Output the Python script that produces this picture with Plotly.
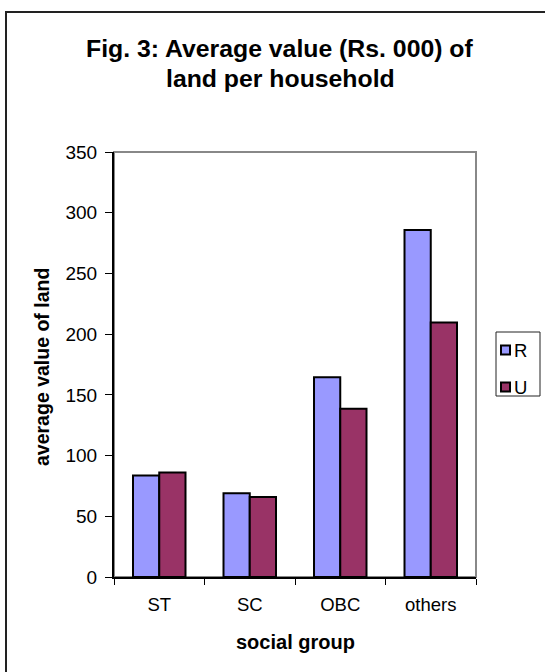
import plotly.graph_objects as go

# Average value of land per household (Rs. 000) by social group
groups = ["ST", "SC", "OBC", "others"]
rural = [83.5, 69.0, 164.6, 285.7]
urban = [86.0, 65.9, 138.5, 209.6]
series_names = ["R", "U"]
y_ticks = [0, 50, 100, 150, 200, 250, 300, 350]
title_lines = ["Fig. 3: Average value (Rs. 000) of", "land per household"]

W, H = 545, 672
L, R, T, B = 114, 476, 152, 577   # plot area in pixels


def px_x(x):
    return (x - L) / (R - L)


def px_y(y):
    return (B - y) / (B - T)


FONT = "Liberation Sans, Arial, sans-serif"
C_R = "#9999FF"
C_U = "#993366"

fig = go.Figure()
fig.add_trace(go.Bar(x=groups, y=rural, name=series_names[0],
                     marker=dict(color=C_R, line=dict(color="black", width=2))))
fig.add_trace(go.Bar(x=groups, y=urban, name=series_names[1],
                     marker=dict(color=C_U, line=dict(color="black", width=2))))

shapes = [
    # chart frame
    dict(type="rect", xref="paper", yref="paper",
         x0=px_x(6), x1=px_x(549), y0=px_y(683), y1=px_y(12),
         line=dict(color="#222222", width=2), fillcolor="rgba(0,0,0,0)", layer="below"),
    # plot area border
    dict(type="rect", xref="paper", yref="paper", x0=0, x1=1, y0=0, y1=1,
         line=dict(color="#888888", width=2), fillcolor="rgba(0,0,0,0)", layer="below"),
    # legend box
    dict(type="rect", xref="paper", yref="paper",
         x0=px_x(496), x1=px_x(540), y0=px_y(396), y1=px_y(332),
         line=dict(color="#222222", width=1), fillcolor="white"),
]
annotations = [
    dict(text="<b>social group</b>", xref="paper", yref="paper",
         x=px_x(295), y=px_y(642), xanchor="center", yanchor="middle",
         showarrow=False, font=dict(family=FONT, size=20, color="black")),
    dict(text="<b>average value of land</b>", xref="paper", yref="paper",
         x=px_x(42), y=px_y(367), xanchor="center", yanchor="middle",
         textangle=-90, showarrow=False,
         font=dict(family=FONT, size=19.5, color="black")),
]

# two-line chart title
for line, cy in zip(title_lines, [48, 78]):
    annotations.append(dict(text="<b>" + line + "</b>", xref="paper", yref="paper",
                            x=px_x(280), y=px_y(cy), xanchor="center",
                            yanchor="middle", showarrow=False,
                            font=dict(family=FONT, size=24.8, color="black")))

# legend entries
for i, (name, col) in enumerate(zip(series_names, [C_R, C_U])):
    cy = 350 + i * 37
    shapes.append(dict(type="rect", xref="paper", yref="paper",
                       x0=px_x(501), x1=px_x(510), y0=px_y(cy + 4.5), y1=px_y(cy - 4.5),
                       line=dict(color="black", width=2), fillcolor=col))
    annotations.append(dict(text=name, xref="paper", yref="paper",
                            x=px_x(512), y=px_y(cy), xanchor="left", yanchor="middle",
                            showarrow=False,
                            font=dict(family=FONT, size=18.5, color="black")))

fig.update_layout(
    width=W, height=H,
    margin=dict(l=L, r=W - R, t=T, b=H - B),
    paper_bgcolor="white", plot_bgcolor="white",
    barmode="group", bargap=0.42, bargroupgap=0,
    showlegend=False,
    font=dict(family=FONT, size=18, color="black"),
    shapes=shapes, annotations=annotations,
)
fig.update_xaxes(type="category", showline=True, linecolor="black", linewidth=2,
                 ticks="outside", ticklen=6, tickcolor="black", tickwidth=1,
                 tickson="boundaries", showgrid=False, ticklabelstandoff=10,
                 tickfont=dict(family=FONT, size=18.5, color="black"))
fig.update_yaxes(range=[0, 350], tickvals=y_ticks, showline=True, linecolor="black",
                 linewidth=2, ticks="outside", ticklen=7, tickcolor="black",
                 tickwidth=1, showgrid=False, zeroline=False, ticklabelstandoff=4,
                 tickfont=dict(family=FONT, size=19, color="black"))

fig.write_html("out.html")
